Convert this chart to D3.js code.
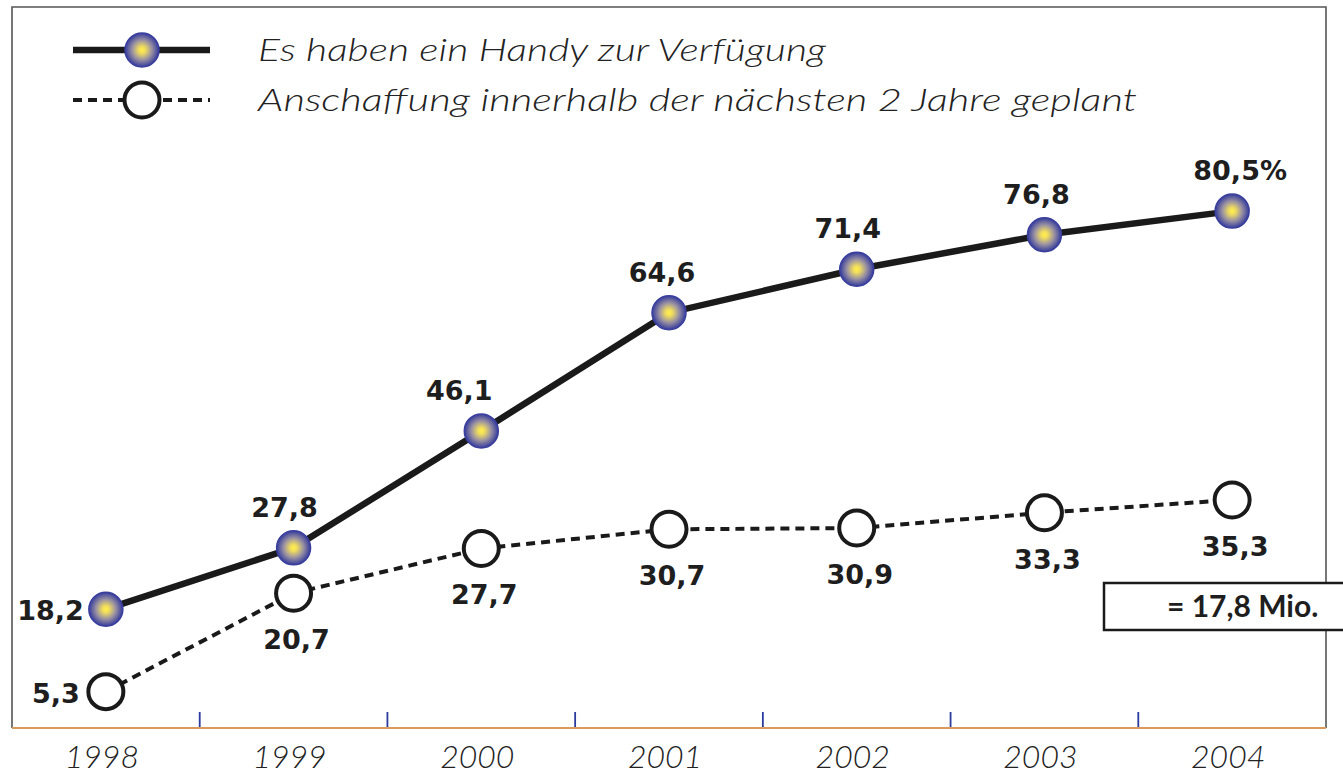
<!DOCTYPE html>
<html><head><meta charset="utf-8">
<script src="https://cdn.jsdelivr.net/npm/d3@7"></script>
<style>html,body{margin:0;padding:0;background:#fff;}svg{display:block;}</style>
</head><body>
<script>
const years = ["1998","1999","2000","2001","2002","2003","2004"];
const handyHave = [18.2, 27.8, 46.1, 64.6, 71.4, 76.8, 80.5];
const handyPlan = [5.3, 20.7, 27.7, 30.7, 30.9, 33.3, 35.3];
const haveLabels = ["18,2","27,8","46,1","64,6","71,4","76,8","80,5%"];
const planLabels = ["5,3","20,7","27,7","30,7","30,9","33,3","35,3"];
const legendLabels = ["Es haben ein Handy zur Verfügung","Anschaffung innerhalb der nächsten 2 Jahre geplant"];
const noteText = "= 17,8 Mio.";

(function(){
const W = 1343, H = 774;
const svg = d3.select("body").append("svg").attr("width", W).attr("height", H);
const defs = svg.append("defs");
const grad = defs.append("radialGradient").attr("id","ball").attr("cx","50%").attr("cy","50%").attr("r","50%");
grad.append("stop").attr("offset","0%").attr("stop-color","#fff04a");
grad.append("stop").attr("offset","20%").attr("stop-color","#f0dc5e");
grad.append("stop").attr("offset","58%").attr("stop-color","#9a92a2");
grad.append("stop").attr("offset","100%").attr("stop-color","#353b9c");

const mL = 12, mR = 1326, mT = 7, mB = 728;
const x = d3.scaleBand().domain(years).range([mL, mR]).paddingInner(0).paddingOuter(0);
const cx = d => x(d) + x.bandwidth()/2;
const y = d3.scaleLinear().domain([0, 100]).range([725.5, 86.5]);

// frame
svg.append("path").attr("d", `M${mL},${mB} V${mT} H${mR} V${mB}`)
  .attr("fill","none").attr("stroke","#555").attr("stroke-width",1.6);

// x axis
const xAxis = d3.axisBottom(x).tickSize(0).tickFormat("");
const ax = svg.append("g").attr("transform",`translate(0,${mB})`).call(xAxis);
ax.select(".domain").remove();
svg.append("line").attr("x1",mL).attr("x2",mR).attr("y1",mB).attr("y2",mB)
  .attr("stroke","#d99a5c").attr("stroke-width",1.8);
svg.selectAll(".tk").data(years.slice(1)).enter().append("line")
  .attr("x1", d => x(d)).attr("x2", d => x(d)).attr("y1", mB-16).attr("y2", mB-1)
  .attr("stroke","#2a3a9e").attr("stroke-width",1.8);
svg.selectAll(".yr").data(years).enter().append("text")
  .attr("x", d => cx(d) - 4).attr("y", 768).attr("text-anchor","middle")
  .attr("font-family","Lato, 'Open Sans', sans-serif").attr("font-style","italic").attr("font-weight",300)
  .attr("font-size",32).attr("fill","#222").text(d => d);

// lines
const line = d3.line().x((d,i) => cx(years[i])).y(d => y(d));
svg.append("path").datum(handyPlan).attr("d", line).attr("fill","none")
  .attr("stroke","#1a1a1a").attr("stroke-width",4).attr("stroke-dasharray","9,6");
svg.append("path").datum(handyHave).attr("d", line).attr("fill","none")
  .attr("stroke","#1a1a1a").attr("stroke-width",6.5);

// markers
svg.selectAll(".pl").data(handyPlan).enter().append("circle")
  .attr("cx",(d,i)=>cx(years[i])).attr("cy",d=>y(d)).attr("r",17.5)
  .attr("fill","#fff").attr("stroke","#1a1a1a").attr("stroke-width",4);
svg.selectAll(".hv").data(handyHave).enter().append("circle")
  .attr("cx",(d,i)=>cx(years[i])).attr("cy",d=>y(d)).attr("r",17)
  .attr("fill","url(#ball)").attr("stroke","#3a3f9e").attr("stroke-width",1.5);

// labels
const lblFont = "'DejaVu Sans', sans-serif";
const topDx = [0, -9, -22, -7, -9, -8, 8];
svg.selectAll(".hl").data(handyHave).enter().append("text")
  .attr("x",(d,i)=> i===0 ? cx(years[i]) - 22 : cx(years[i]) + topDx[i])
  .attr("y",(d,i)=> i===0 ? y(d) + 11 : y(d) - 31)
  .attr("text-anchor",(d,i)=> i===0 ? "end" : "middle")
  .attr("font-family",lblFont).attr("font-weight",700).attr("font-size",27).attr("fill","#1e1e1e")
  .text((d,i)=>haveLabels[i]);
svg.selectAll(".plb").data(handyPlan).enter().append("text")
  .attr("x",(d,i)=> i===0 ? cx(years[i]) - 26 : cx(years[i]) + 3)
  .attr("y",(d,i)=> i===0 ? y(d) + 11 : y(d) + 56)
  .attr("text-anchor",(d,i)=> i===0 ? "end" : "middle")
  .attr("font-family",lblFont).attr("font-weight",700).attr("font-size",27).attr("fill","#1e1e1e")
  .text((d,i)=>planLabels[i]);

// legend
const lg = svg.append("g");
lg.append("line").attr("x1",73).attr("x2",210).attr("y1",50).attr("y2",50).attr("stroke","#1a1a1a").attr("stroke-width",6.5);
lg.append("circle").attr("cx",142).attr("cy",50).attr("r",17).attr("fill","url(#ball)").attr("stroke","#3a3f9e").attr("stroke-width",1.5);
lg.append("line").attr("x1",73).attr("x2",210).attr("y1",100).attr("y2",100).attr("stroke","#1a1a1a").attr("stroke-width",4).attr("stroke-dasharray","9,6");
lg.append("circle").attr("cx",142).attr("cy",100).attr("r",17.5).attr("fill","#fff").attr("stroke","#1a1a1a").attr("stroke-width",4);
const legW = [568, 879];
lg.selectAll(".lt").data(legendLabels).enter().append("text")
  .attr("x",258).attr("y",(d,i)=> 61 + i*50)
  .attr("font-family","Lato, 'Open Sans', sans-serif").attr("font-style","italic").attr("font-weight",300)
  .attr("font-size",31).attr("fill","#222")
  .attr("textLength",(d,i)=>legW[i]).attr("lengthAdjust","spacingAndGlyphs")
  .text(d=>d);

// note box
svg.append("rect").attr("x",1104).attr("y",583).attr("width",260).attr("height",47)
  .attr("fill","#fff").attr("stroke","#1a1a1a").attr("stroke-width",2.5);
svg.append("text").attr("x",1167).attr("y",617).attr("font-family","Lato, 'Open Sans', sans-serif").attr("font-weight",700)
  .attr("font-size",30).attr("fill","#1e1e1e").text(noteText);
})();
</script>
</body></html>
